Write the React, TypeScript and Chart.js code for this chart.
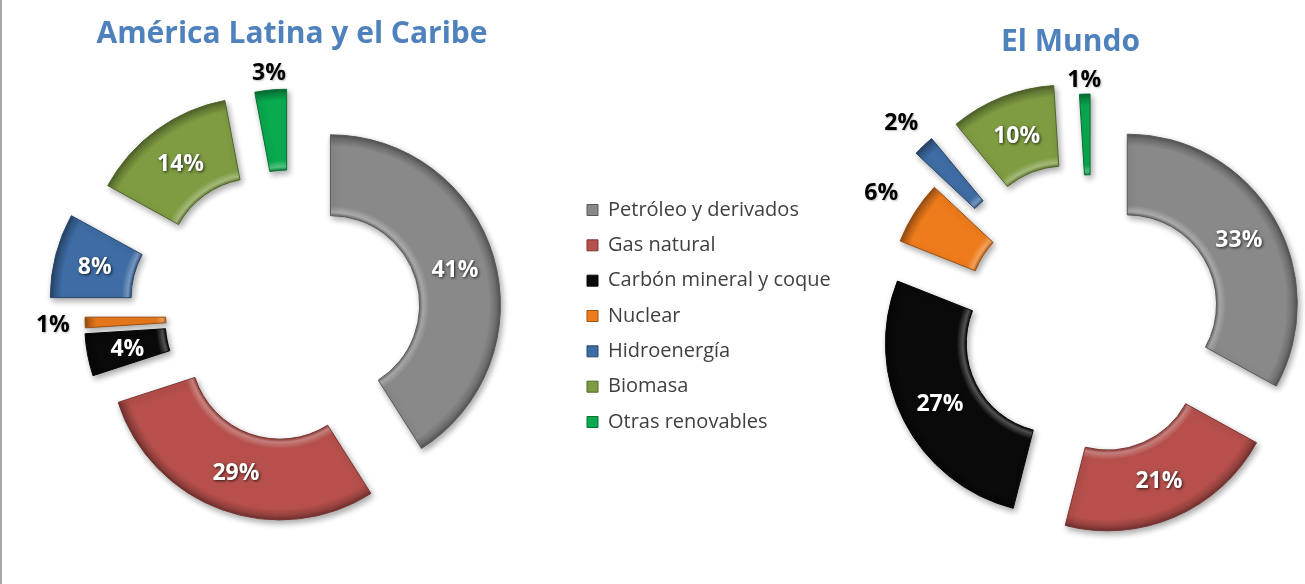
import React, { useEffect, useRef } from 'react';
import { Chart, registerables } from 'chart.js';

Chart.register(...registerables);

// ---------- data ----------
const categories = [
  'Petróleo y derivados',
  'Gas natural',
  'Carbón mineral y coque',
  'Nuclear',
  'Hidroenergía',
  'Biomasa',
  'Otras renovables',
];
const latamValues = [41, 29, 4, 1, 8, 14, 3];
const worldValues = [33, 21, 27, 6, 2, 10, 1];
const latamTitle = 'América Latina y el Caribe';
const worldTitle = 'El Mundo';

// ---------- styles ----------
const sliceColors = ['#898989', '#B7504C', '#0A0A0A', '#EE7B1C', '#3E6CA4', '#7E9C42', '#0AAA4F'];
// per-slice explosion distance (px)
const latamExplode = [40, 36, 38, 37, 74, 60, 57];
const worldExplode = [41, 39, 41, 40, 76, 75, 61];
// null = label inside the slice, number = outside with this gap (px)
const latamLabelGap: (number | null)[] = [null, null, null, 15, null, null, 7];
const worldLabelGap: (number | null)[] = [null, null, null, 20, 14, null, 5];

const FONT = '"Open Sans", "DejaVu Sans", sans-serif';
const OUTER_R = 170;
const CUTOUT = 0.525;
const LEGEND_SIZE = 20;
const LEGEND_BOX = 11;
const LEGEND_PAD = 15.33;
const TITLE_COLOR = '#4F81BD';

function hexToRgb(h: string) {
  const n = parseInt(h.slice(1), 16);
  return [(n >> 16) & 255, (n >> 8) & 255, n & 255];
}
function mix(h: string, target: number, t: number) {
  const [r, g, b] = hexToRgb(h);
  const m = (c: number) => Math.round(c + (target - c) * t);
  return `rgb(${m(r)},${m(g)},${m(b)})`;
}
const lighten = (h: string, t: number) => mix(h, 255, t);
const darken = (h: string, t: number) => mix(h, 0, t);

function bevelFill(c: any) {
  const base = sliceColors[c.dataIndex] || '#888';
  const chart = c.chart;
  const area = chart.chartArea;
  if (!area || c.type !== 'data') return base;
  const cx = (area.left + area.right) / 2;
  const cy = (area.top + area.bottom) / 2;
  const g = chart.ctx.createRadialGradient(cx, cy, OUTER_R * CUTOUT, cx, cy, OUTER_R);
  g.addColorStop(0, darken(base, 0.2));
  g.addColorStop(0.04, lighten(base, 0.3));
  g.addColorStop(0.12, base);
  g.addColorStop(0.86, base);
  g.addColorStop(0.95, darken(base, 0.2));
  g.addColorStop(1, darken(base, 0.4));
  return g;
}

const explodePlugin = {
  id: 'explode',
  beforeDatasetDraw(chart: any, args: any, opts: any) {
    const ctx = chart.ctx;
    const offsets: number[] = opts.offsets || [];
    args.meta.data.forEach((arc: any, i: number) => {
      const p = arc.getProps(['startAngle', 'endAngle'], true);
      const mid = (p.startAngle + p.endAngle) / 2;
      const d = offsets[i] || 0;
      ctx.save();
      ctx.translate(Math.cos(mid) * d, Math.sin(mid) * d);
      ctx.shadowColor = 'rgba(0,0,0,0.35)';
      ctx.shadowBlur = 6;
      ctx.shadowOffsetX = 2;
      ctx.shadowOffsetY = 3;
      arc.draw(ctx);
      ctx.restore();
    });
    return false;
  },
};

const labelPlugin = {
  id: 'sliceLabels',
  afterDatasetsDraw(chart: any, _args: any, opts: any) {
    const ctx = chart.ctx;
    const meta = chart.getDatasetMeta(0);
    const values = chart.data.datasets[0].data;
    const offsets: number[] = opts.offsets || [];
    const gaps: (number | null)[] = opts.gaps || [];
    ctx.save();
    ctx.font = `bold ${opts.size}px ${FONT}`;
    ctx.textAlign = 'center';
    ctx.textBaseline = 'middle';
    meta.data.forEach((arc: any, i: number) => {
      const p = arc.getProps(['x', 'y', 'startAngle', 'endAngle', 'innerRadius', 'outerRadius'], true);
      const mid = (p.startAngle + p.endAngle) / 2;
      const cos = Math.cos(mid);
      const sin = Math.sin(mid);
      const d = offsets[i] || 0;
      const text = `${values[i]}%`;
      const gap = gaps[i];
      let r: number;
      ctx.save();
      if (gap !== null && gap !== undefined) {
        const w = ctx.measureText(text).width;
        const h = opts.size * 0.85;
        r = p.outerRadius + gap + (Math.abs(cos) * w) / 2 + (Math.abs(sin) * h) / 2;
        ctx.fillStyle = '#000000';
        ctx.shadowColor = 'rgba(0,0,0,0.25)';
        ctx.shadowBlur = 2;
        ctx.shadowOffsetX = 1;
        ctx.shadowOffsetY = 1;
      } else {
        r = (p.innerRadius + p.outerRadius) / 2;
        ctx.fillStyle = '#FFFFFF';
        ctx.shadowColor = 'rgba(0,0,0,0.75)';
        ctx.shadowBlur = 3;
        ctx.shadowOffsetX = 1;
        ctx.shadowOffsetY = 1;
      }
      ctx.fillText(text, p.x + cos * (d + r), p.y + sin * (d + r) + 2);
      ctx.restore();
    });
    ctx.restore();
  },
};

function makeConfig(o: {
  values: number[];
  explode: number[];
  gaps: (number | null)[];
  title: string;
  titlePadding: { top: number; bottom: number };
  titleAlign: 'start' | 'center' | 'end';
  padding: { left: number; right: number; top: number; bottom: number };
  legend: boolean;
}): any {
  return {
    type: 'doughnut',
    data: {
      labels: categories,
      datasets: [
        {
          data: o.values,
          backgroundColor: bevelFill,
          borderColor: sliceColors.map((c) => darken(c, 0.35)),
          borderWidth: 1,
          hoverOffset: 0,
          offset: 0,
          spacing: 0,
        },
      ],
    },
    options: {
      responsive: false,
      animation: false,
      events: [],
      radius: OUTER_R,
      cutout: `${CUTOUT * 100}%`,
      layout: { padding: o.padding },
      plugins: {
        tooltip: { enabled: false },
        title: {
          display: true,
          text: o.title,
          color: TITLE_COLOR,
          font: { family: FONT, size: 30, weight: 'bold', lineHeight: 1.2 },
          padding: o.titlePadding,
          fullSize: false,
          align: o.titleAlign,
        },
        legend: {
          display: o.legend,
          position: 'right',
          fullSize: false,
          align: 'center',
          onClick: () => {},
          labels: {
            boxWidth: LEGEND_BOX,
            boxHeight: LEGEND_BOX,
            padding: LEGEND_PAD,
            color: '#404040',
            font: { family: FONT, size: LEGEND_SIZE },
            generateLabels: () =>
              categories.map((t, i) => ({
                text: t,
                fillStyle: sliceColors[i],
                strokeStyle: darken(sliceColors[i], 0.35),
                lineWidth: 1,
                hidden: false,
                index: i,
                fontColor: '#404040',
              })),
          },
        },
        explode: { offsets: o.explode },
        sliceLabels: { offsets: o.explode, gaps: o.gaps, size: 23 },
      },
    },
    plugins: [explodePlugin, labelPlugin],
  };
}

const LEFT_W = 860;
const RIGHT_X = 860;
const RIGHT_W = 445;
const H = 584;

export default function App() {
  const leftRef = useRef<HTMLCanvasElement>(null);
  const rightRef = useRef<HTMLCanvasElement>(null);

  useEffect(() => {
    const m = document.createElement('canvas').getContext('2d')!;
    m.font = `normal ${LEGEND_SIZE}px ${FONT}`;
    const maxTextW = Math.max(...categories.map((c) => m.measureText(c).width));
    const legendW = LEGEND_PAD + LEGEND_BOX + LEGEND_SIZE / 2 + maxTextW + 10;
    const chartRight = 571.67;
    const padRight = Math.max(LEFT_W - chartRight - legendW, 0);

    const left = new Chart(
      leftRef.current!,
      makeConfig({
        values: latamValues,
        explode: latamExplode,
        gaps: latamLabelGap,
        title: latamTitle,
        titlePadding: { top: 16, bottom: 0 },
        titleAlign: 'center',
        padding: { left: 12.33, right: padRight, top: 0, bottom: 4 },
        legend: true,
      })
    );
    const right = new Chart(
      rightRef.current!,
      makeConfig({
        values: worldValues,
        explode: worldExplode,
        gaps: worldLabelGap,
        title: worldTitle,
        titlePadding: { top: 24, bottom: 6 },
        titleAlign: 'start',
        padding: { left: 141, right: 122, top: 0, bottom: 0 },
        legend: false,
      })
    );
    return () => {
      left.destroy();
      right.destroy();
    };
  }, []);

  return (
    <div
      style={{
        position: 'fixed',
        left: 0,
        top: 0,
        width: 1305,
        height: H,
        overflow: 'hidden',
        background: '#FFFFFF',
      }}
    >
      <div style={{ position: 'absolute', left: 0, top: 0, width: 2, height: H, background: '#A6A6A6' }} />
      <canvas
        ref={leftRef}
        width={LEFT_W}
        height={H}
        style={{ position: 'absolute', left: 0, top: 0, width: LEFT_W, height: H }}
      />
      <canvas
        ref={rightRef}
        width={RIGHT_W}
        height={H}
        style={{ position: 'absolute', left: RIGHT_X, top: 0, width: RIGHT_W, height: H }}
      />
    </div>
  );
}
